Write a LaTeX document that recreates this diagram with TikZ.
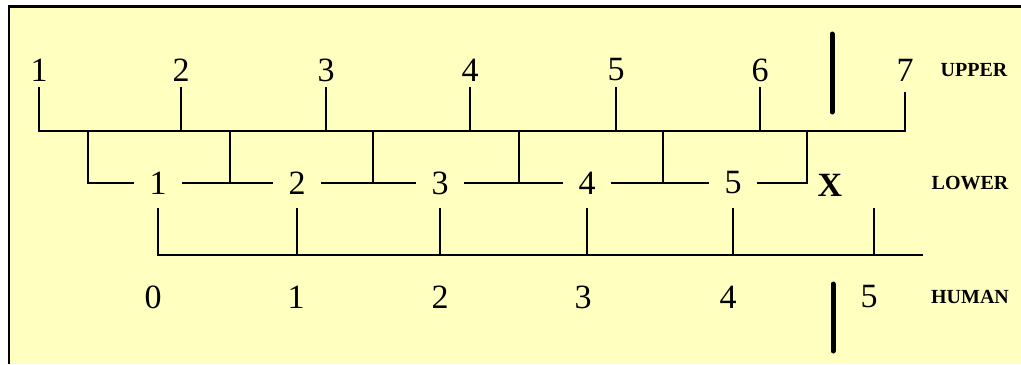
\documentclass[tikz,border=0pt]{standalone}
\usepackage{fontspec}
\setmainfont{Liberation Serif}
\definecolor{paper}{RGB}{255,255,192}
\begin{document}
\begin{tikzpicture}[x=0.5pt, y=-0.5pt,
  num/.style={font=\fontsize{17}{20}\selectfont, inner sep=2.5pt},
  low/.style={num, inner xsep=7.5pt},
  tag/.style={font=\fontsize{10}{12}\selectfont\bfseries},
  ln/.style={line width=1pt},
  divider/.style={line width=2.5pt, line cap=round}
]
\useasboundingbox (0,0) rectangle (1021,364);
\fill[paper] (9,6.5) rectangle (1021,364);
\draw[line width=1.1pt] (1021,6.5) -- (9,6.5) -- (9,364);

\node[num] (u1) at (39,70) {1};
\node[num] (u2) at (181,70) {2};
\node[num] (u3) at (326,70) {3};
\node[num] (u4) at (470,70) {4};
\node[num] (u5) at (616,70) {5};
\node[num] (u6) at (760,70) {6};
\node[num] (u7) at (905,70) {7};
\node[tag] (upper) at (974,70) {UPPER};

\coordinate (ub) at (0,131);
\draw[ln] (u1.south) -- (u1.south |- ub) -- (u7.south |- ub) -- ([yshift=-2.5pt]u7.south);
\foreach \i in {2,...,6}
  \draw[ln] (u\i.south) -- (u\i.south |- ub);

\coordinate (d0) at (88,131);
\coordinate (d1) at (230,131);
\coordinate (d2) at (373,131);
\coordinate (d3) at (519,131);
\coordinate (d4) at (663,131);
\coordinate (d5) at (807,131);

\node[low] (l1) at (158,183) {1};
\node[low] (l2) at (297,183) {2};
\node[low] (l3) at (440,183) {3};
\node[low] (l4) at (587,183) {4};
\node[low] (l5) at (733,183) {5};
\node[font=\fontsize{17}{20}\selectfont\bfseries] (lx) at (830,185) {X};
\node[tag] (lower) at (970,183) {LOWER};

\draw[ln] (d0) |- (l1.west);
\draw[ln] (l1.east) -- (l2.west);
\draw[ln] (l2.east) -- (l3.west);
\draw[ln] (l3.east) -- (l4.west);
\draw[ln] (l4.east) -- (l5.west);
\draw[ln] (l5.east) -| (d5);
\foreach \i in {1,...,4}
  \draw[ln] (d\i) -- (d\i |- l1);

\coordinate (ht) at (0,208);
\coordinate (hb) at (0,255);
\coordinate (hend) at (923,255);
\coordinate (t6) at (874,208);
\draw[ln] (l1 |- ht) -- (l1 |- hb) -- (hend);
\foreach \i in {2,...,5}
  \draw[ln] (l\i |- ht) -- (l\i |- hb);
\draw[ln] (t6) -- (t6 |- hb);

\node[num] (h0) at (153,297) {0};
\node[num] (h1) at (296,297) {1};
\node[num] (h2) at (440,297) {2};
\node[num] (h3) at (583,297) {3};
\node[num] (h4) at (728,297) {4};
\node[num] (h5) at (869,297) {5};
\node[tag] (human) at (970,297) {HUMAN};

\coordinate (gapa) at (832,34);
\coordinate (gapb) at (832,112);
\coordinate (gapc) at (833,284);
\coordinate (gapd) at (833,351);
\draw[divider] (gapa) -- (gapb);
\draw[divider] (gapc) -- (gapd);
\end{tikzpicture}
\end{document}
